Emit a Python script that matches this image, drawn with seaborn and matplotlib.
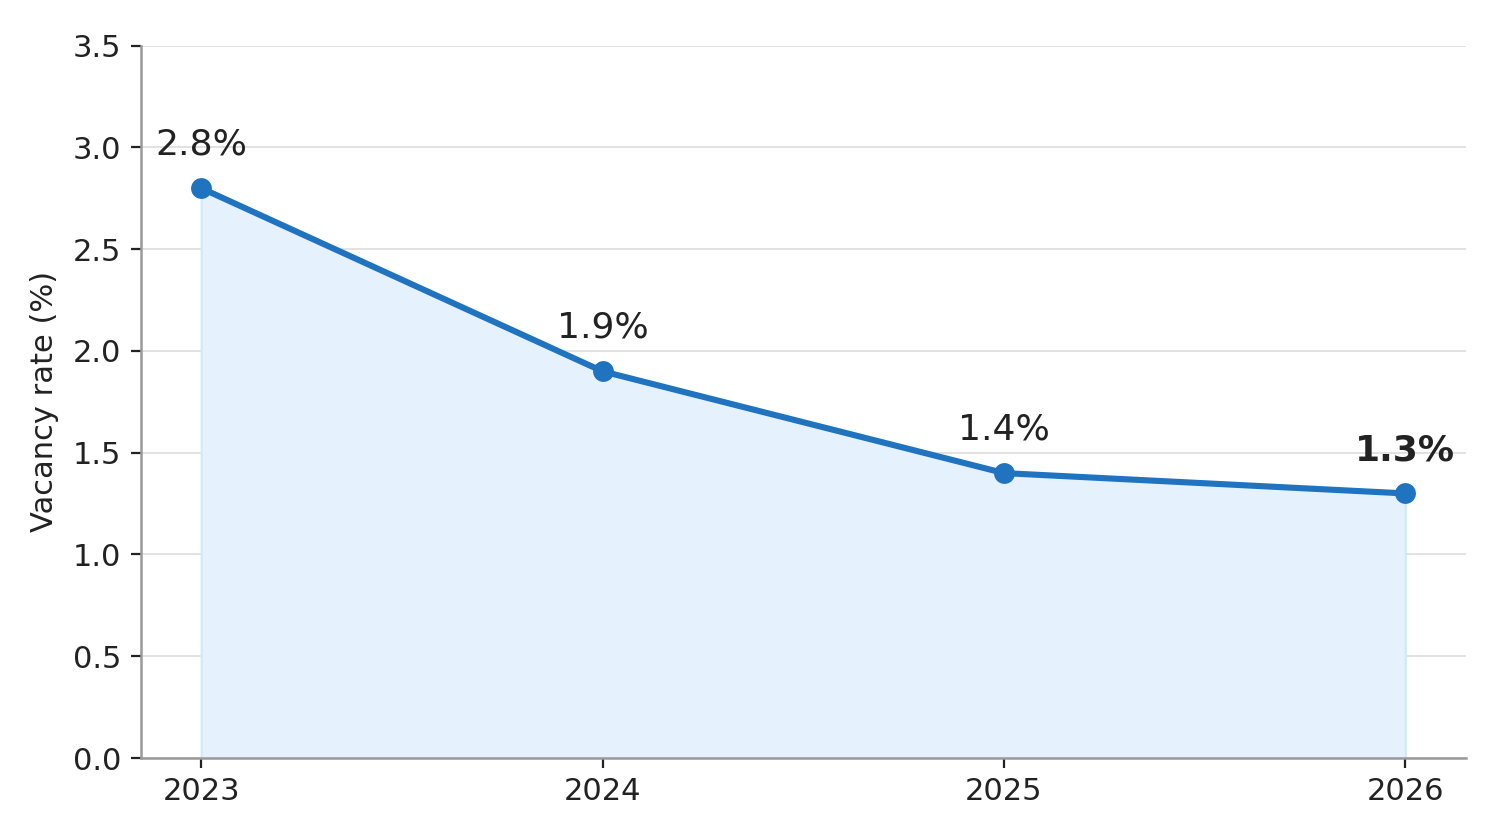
import seaborn as sns
import matplotlib.pyplot as plt
import pandas as pd

years = [2023, 2024, 2025, 2026]
vacancy = [2.8, 1.9, 1.4, 1.3]
labels = ["2.8%", "1.9%", "1.4%", "1.3%"]

line_color = "#1f73bf"
fill_color = "#e5f1fd"

sns.set_theme(style="ticks")
plt.rcParams['font.family'] = ['DejaVu Sans']

df = pd.DataFrame({"year": years, "vacancy": vacancy})

fig = plt.figure(figsize=(7.5, 4.2), dpi=200)
ax = fig.add_axes([0.094, 0.0976, 0.883, 0.848])

# light area under the line
ax.fill_between(df["year"], df["vacancy"], 0, color=fill_color,
                edgecolor="#d6e8f8", linewidth=0.8, zorder=1)
sns.lineplot(data=df, x="year", y="vacancy", ax=ax, color=line_color,
             linewidth=2.2, marker="o", markersize=7.5, markeredgewidth=0, zorder=3)

for i, (x, y, lab) in enumerate(zip(years, vacancy, labels)):
    ax.annotate(lab, (x, y), xytext=(0, 9.5), textcoords="offset points",
                ha="center", va="bottom", fontsize=13, color="#222222",
                fontweight="bold" if i == len(years) - 1 else "normal")

ax.set_ylim(0, 3.5)
ax.set_yticks([0, 0.5, 1.0, 1.5, 2.0, 2.5, 3.0, 3.5])
ax.set_xticks(years)
ax.set_xticklabels([str(y) for y in years])
ax.set_xlabel("")
ax.set_ylabel("Vacancy rate (%)", fontsize=11, color="#222222", labelpad=5)
ax.grid(axis="y", color="#dddddd", linewidth=0.6)
ax.set_axisbelow(True)

ax.tick_params(labelsize=11, colors="#222222", length=3.5, width=0.8)
sns.despine(ax=ax)
for s in ["left", "bottom"]:
    ax.spines[s].set_color("#999999")
    ax.spines[s].set_linewidth(0.9)

fig.savefig("out.png", dpi=200)
